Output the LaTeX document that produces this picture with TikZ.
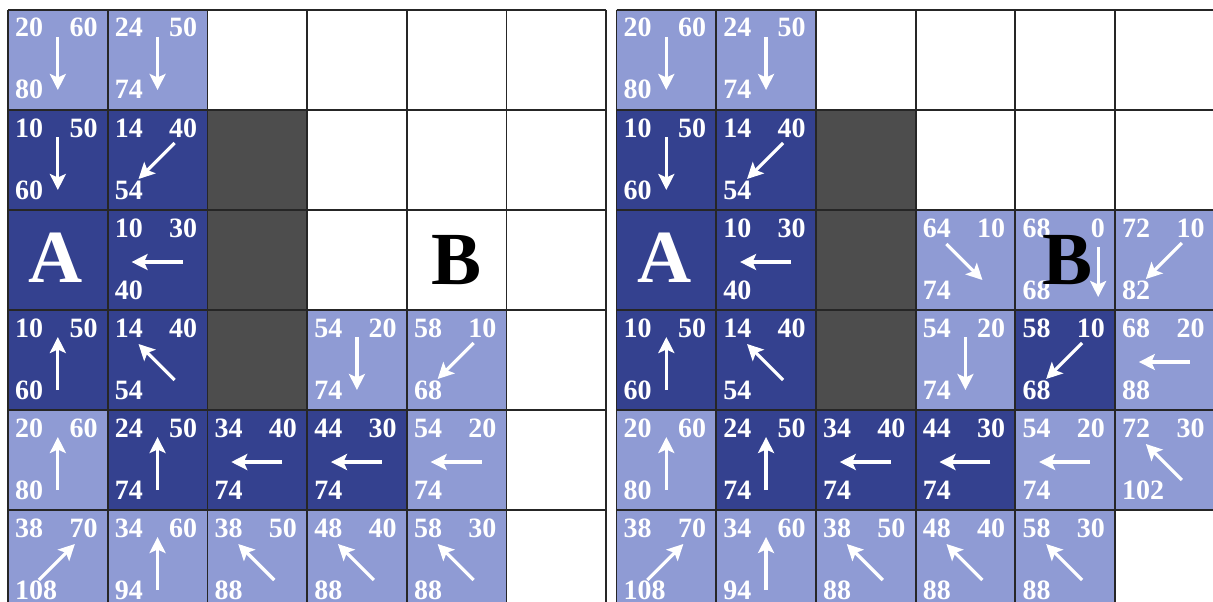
\documentclass[tikz,border=0pt]{standalone}
\usepackage{fontspec}
\setmainfont{Liberation Serif}
\usetikzlibrary{arrows.meta,calc}
\definecolor{lb}{RGB}{143,155,212}
\definecolor{db}{RGB}{52,65,143}
\definecolor{gr}{RGB}{77,77,77}
\newcounter{cellc}
\newcommand\cw{99.7}
\tikzset{
  num/.style={text=white,font=\bfseries\fontsize{28}{28}\selectfont,inner sep=0pt},
  big/.style={font=\bfseries\fontsize{75}{75}\selectfont,inner sep=0pt},
  arr/.style={white,line width=3.2pt,-{Stealth[length=16pt,width=16pt,inset=3.5pt]}},
  gl/.style={line width=1.8pt,black!85},
}
% arrow directions, relative to cell centre coordinate
\newcommand\arrdn[1]{\draw[arr] ($(#1)+(0,-23)$) -- ($(#1)+(0,30)$);}
\newcommand\arrup[1]{\draw[arr] ($(#1)+(0,30)$) -- ($(#1)+(0,-23)$);}
\newcommand\arrlt[1]{\draw[arr] ($(#1)+(25,2)$) -- ($(#1)+(-26,2)$);}
\newcommand\arrdl[1]{\draw[arr] ($(#1)+(17,-17)$) -- ($(#1)+(-19,19)$);}
\newcommand\arrul[1]{\draw[arr] ($(#1)+(17,20)$) -- ($(#1)+(-19,-16)$);}
\newcommand\arrur[1]{\draw[arr] ($(#1)+(-19,20)$) -- ($(#1)+(17,-16)$);}
\newcommand\arrdr[1]{\draw[arr] ($(#1)+(-19,-16)$) -- ($(#1)+(17,20)$);}
\newcommand\arrdnB[1]{\draw[arr] ($(#1)+(33,-13)$) -- ($(#1)+(33,37)$);}
\newcommand\gcell[8]{%
  \stepcounter{cellc}%
  \pgfmathsetmacro\cx{#1+#2*\cw}%
  \pgfmathsetmacro\cy{10+#3*100}%
  \fill[#4] (\cx,\cy) rectangle ++(\cw,100);
  \node[num,anchor=base west] (g\thecellc) at (\cx+7,\cy+27) {#5};
  \node[num,anchor=base east] (h\thecellc) at (\cx+\cw-10,\cy+27) {#6};
  \node[num,anchor=base west] (f\thecellc) at (\cx+7,\cy+89) {#7};
  \coordinate (c\thecellc) at (\cx+\cw/2,\cy+50);
  \csname arr#8\endcsname{c\thecellc}%
}
\newcommand\fillcell[4]{%
  \pgfmathsetmacro\cx{#1+#2*\cw}%
  \pgfmathsetmacro\cy{10+#3*100}%
  \fill[#4] (\cx,\cy) rectangle ++(\cw,100);
}
\newcommand\common[2]{% #1 x0, #2 tag
  \gcell{#1}{0}{0}{lb}{20}{60}{80}{dn}
  \gcell{#1}{1}{0}{lb}{24}{50}{74}{dn}
  \gcell{#1}{0}{1}{db}{10}{50}{60}{dn}
  \gcell{#1}{1}{1}{db}{14}{40}{54}{dl}
  \fillcell{#1}{2}{1}{gr}
  \fillcell{#1}{2}{2}{gr}
  \fillcell{#1}{2}{3}{gr}
  \fillcell{#1}{0}{2}{db}
  \node[big,text=white] (A#2) at (#1+0.5*\cw-2,258) {A};
  \gcell{#1}{1}{2}{db}{10}{30}{40}{lt}
  \gcell{#1}{0}{3}{db}{10}{50}{60}{up}
  \gcell{#1}{1}{3}{db}{14}{40}{54}{ul}
  \gcell{#1}{3}{3}{lb}{54}{20}{74}{dn}
  \gcell{#1}{0}{4}{lb}{20}{60}{80}{up}
  \gcell{#1}{1}{4}{db}{24}{50}{74}{up}
  \gcell{#1}{2}{4}{db}{34}{40}{74}{lt}
  \gcell{#1}{3}{4}{db}{44}{30}{74}{lt}
  \gcell{#1}{4}{4}{lb}{54}{20}{74}{lt}
  \gcell{#1}{0}{5}{lb}{38}{70}{108}{ur}
  \gcell{#1}{1}{5}{lb}{34}{60}{94}{up}
  \gcell{#1}{2}{5}{lb}{38}{50}{88}{ul}
  \gcell{#1}{3}{5}{lb}{48}{40}{88}{ul}
  \gcell{#1}{4}{5}{lb}{58}{30}{88}{ul}
}
\newcommand\gridlines[1]{%
  \foreach \i in {0,...,6} \draw[gl] (#1+\i*\cw,10) -- (#1+\i*\cw,610);
  \foreach \j in {0,...,6} \draw[gl] (#1,10+\j*100) -- (#1+6*\cw,10+\j*100);
}
\begin{document}
\begin{tikzpicture}[x=1pt,y=-1pt]
  \useasboundingbox (0,0) rectangle (1213,602);
  \clip (0,0) rectangle (1213,602);
  \fill[white] (0,0) rectangle (1213,602);
  % left grid
  \common{8}{L}
  \gcell{8}{4}{3}{lb}{58}{10}{68}{dl}
  \gridlines{8}
  \node[big,text=black] (BL) at (8+4.5*\cw,260) {B};
  % right grid
  \common{616.5}{R}
  \gcell{616.5}{3}{2}{lb}{64}{10}{74}{dr}
  \gcell{616.5}{4}{2}{lb}{68}{0}{68}{dnB}
  \gcell{616.5}{5}{2}{lb}{72}{10}{82}{dl}
  \gcell{616.5}{4}{3}{db}{58}{10}{68}{dl}
  \gcell{616.5}{5}{3}{lb}{68}{20}{88}{lt}
  \gcell{616.5}{5}{4}{lb}{72}{30}{102}{ul}
  \gridlines{616.5}
  \node[big,text=black] (BR) at (616.5+4.5*\cw+2,260) {B};
\end{tikzpicture}
\end{document}
